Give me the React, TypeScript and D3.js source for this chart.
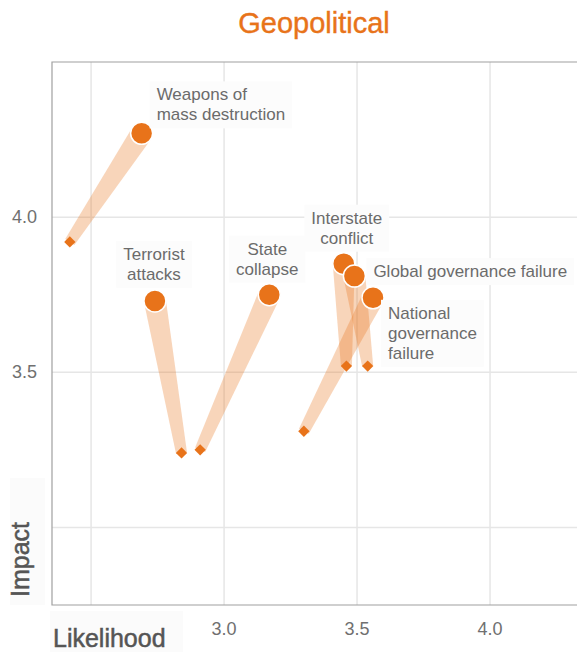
import React, { useEffect, useRef } from "react";
import * as d3 from "d3";

// risk names + values (now = circle, prev = diamond)
const categories = [
  "Weapons of mass destruction",
  "Terrorist attacks",
  "State collapse",
  "Interstate conflict",
  "Global governance failure",
  "National governance failure",
];
const likelihoodNow = [2.69, 2.74, 3.17, 3.45, 3.49, 3.56];
const impactNow = [4.27, 3.73, 3.75, 3.85, 3.81, 3.74];
const likelihoodPrev = [2.42, 2.84, 2.91, 3.46, 3.54, 3.3];
const impactPrev = [3.92, 3.24, 3.25, 3.52, 3.52, 3.31];
const labelLines = [
  ["Weapons of", "mass destruction"],
  ["Terrorist", "attacks"],
  ["State", "collapse"],
  ["Interstate", "conflict"],
  ["Global governance failure"],
  ["National", "governance", "failure"],
];
// gridlines, and the tick labels that are not hidden by the axis titles
const xTicks = [2.5, 3.0, 3.5, 4.0];
const yTicks = [3.0, 3.5, 4.0];
const xTickLabels = [3.0, 3.5, 4.0];
const yTickLabels = [3.5, 4.0];

// label placement relative to the circle
const labelLayout = [
  { anchor: "start", dx: 15, dy: -33 },
  { anchor: "middle", dx: -1, dy: -41 },
  { anchor: "middle", dx: -2, dy: -40 },
  { anchor: "middle", dx: 3, dy: -40 },
  { anchor: "start", dx: 19, dy: 1 },
  { anchor: "start", dx: 15, dy: 21 },
];

const width = 577;
const height = 652;
const left = 52;
const right = 577;
const top = 62;
const bottom = 605;
const orange = "#e8731a";
const font = "'Liberation Sans', Arial, sans-serif";

const App = () => {
  const ref = useRef<SVGSVGElement>(null);

  useEffect(() => {
    const svg = d3.select(ref.current);
    svg.selectAll("*").remove();

    const x = d3.scaleLinear().domain([2.353, 4.327]).range([left, right]);
    const y = d3.scaleLinear().domain([2.75, 4.5]).range([bottom, top]);

    const data = categories.map((name, i) => ({
      name,
      x1: likelihoodNow[i],
      y1: impactNow[i],
      x0: likelihoodPrev[i],
      y0: impactPrev[i],
      lines: labelLines[i],
      layout: labelLayout[i],
    }));

    // title
    svg
      .append("text")
      .attr("x", 314)
      .attr("y", 33)
      .attr("text-anchor", "middle")
      .attr("font-family", font)
      .attr("font-size", 29)
      .attr("fill", orange)
      .attr("stroke", orange)
      .attr("stroke-width", 0.4)
      .text("Geopolitical");

    // grid
    svg
      .append("g")
      .selectAll("line")
      .data(xTicks)
      .join("line")
      .attr("x1", (d) => x(d))
      .attr("x2", (d) => x(d))
      .attr("y1", top)
      .attr("y2", bottom)
      .attr("stroke", "#e6e6e6")
      .attr("stroke-width", 1.5);
    svg
      .append("g")
      .selectAll("line")
      .data(yTicks)
      .join("line")
      .attr("x1", left)
      .attr("x2", right)
      .attr("y1", (d) => y(d))
      .attr("y2", (d) => y(d))
      .attr("stroke", "#e6e6e6")
      .attr("stroke-width", 1.5);

    // frame
    svg
      .append("path")
      .attr("d", `M${right},${top}H${left}V${bottom}H${right}`)
      .attr("fill", "none")
      .attr("stroke", "#a0a0a0")
      .attr("stroke-width", 1.2);

    // tick labels
    svg
      .append("g")
      .selectAll("text")
      .data(xTickLabels)
      .join("text")
      .attr("x", (d) => x(d))
      .attr("y", 635)
      .attr("text-anchor", "middle")
      .attr("font-family", font)
      .attr("font-size", 18)
      .attr("fill", "#707070")
      .text((d) => d3.format(".1f")(d));
    svg
      .append("g")
      .selectAll("text")
      .data(yTickLabels)
      .join("text")
      .attr("x", left - 15)
      .attr("y", (d) => y(d) + 6)
      .attr("text-anchor", "end")
      .attr("font-family", font)
      .attr("font-size", 18)
      .attr("fill", "#707070")
      .text((d) => d3.format(".1f")(d));

    // bands from previous to current position
    const band = (d) => {
      const ax = x(d.x0), ay = y(d.y0), bx = x(d.x1), by = y(d.y1);
      const len = Math.hypot(bx - ax, by - ay);
      const nx = -(by - ay) / len, ny = (bx - ax) / len;
      const w0 = 5.5, w1 = 11;
      return `M${ax + nx * w0},${ay + ny * w0}L${bx + nx * w1},${by + ny * w1}L${bx - nx * w1},${by - ny * w1}L${ax - nx * w0},${ay - ny * w0}Z`;
    };
    svg
      .append("g")
      .selectAll("path")
      .data(data)
      .join("path")
      .attr("d", band)
      .attr("fill", orange)
      .attr("fill-opacity", 0.3);

    svg
      .append("g")
      .selectAll("path")
      .data(data)
      .join("path")
      .attr("d", d3.symbol(d3.symbolSquare, 64))
      .attr("transform", (d) => `translate(${x(d.x0)},${y(d.y0)}) rotate(45)`)
      .attr("fill", orange);

    svg
      .append("g")
      .selectAll("circle")
      .data(data)
      .join("circle")
      .attr("cx", (d) => x(d.x1))
      .attr("cy", (d) => y(d.y1))
      .attr("r", 11)
      .attr("fill", orange)
      .attr("stroke", "#fff")
      .attr("stroke-width", 1.5);

    // labels with very faint boxes
    const labels = svg.append("g");
    data.forEach((d) => {
      const g = labels.append("g");
      const box = g.append("rect");
      const t = g
        .append("text")
        .attr("font-family", font)
        .attr("font-size", 17)
        .attr("fill", "#6b6b6b")
        .attr("text-anchor", d.layout.anchor);
      d.lines.forEach((line, j) => {
        t.append("tspan")
          .attr("x", x(d.x1) + d.layout.dx)
          .attr("y", y(d.y1) + d.layout.dy + j * 20)
          .text(line);
      });
      const bb = (t.node() as SVGTextElement).getBBox();
      box
        .attr("x", bb.x - 7)
        .attr("y", bb.y - 4)
        .attr("width", bb.width + 14)
        .attr("height", bb.height + 8)
        .attr("fill", "#fcfcfc");
    });

    // axis titles with faint boxes
    svg
      .append("rect")
      .attr("x", 50)
      .attr("y", 611)
      .attr("width", 133)
      .attr("height", 41)
      .attr("fill", "#fbfbfb");
    svg
      .append("text")
      .attr("x", 53)
      .attr("y", 647)
      .attr("font-family", font)
      .attr("font-size", 25)
      .attr("fill", "#555")
      .attr("stroke", "#555")
      .attr("stroke-width", 0.5)
      .text("Likelihood");

    svg
      .append("rect")
      .attr("x", 10)
      .attr("y", 478)
      .attr("width", 35)
      .attr("height", 127)
      .attr("fill", "#fbfbfb");
    svg
      .append("text")
      .attr("transform", "translate(29,597) rotate(-90)")
      .attr("font-family", font)
      .attr("font-size", 25)
      .attr("fill", "#555")
      .attr("stroke", "#555")
      .attr("stroke-width", 0.5)
      .text("Impact");
  }, []);

  return (
    <svg
      ref={ref}
      width={width}
      height={height}
      style={{ position: "absolute", left: 0, top: 0, display: "block" }}
    />
  );
};

export default App;
